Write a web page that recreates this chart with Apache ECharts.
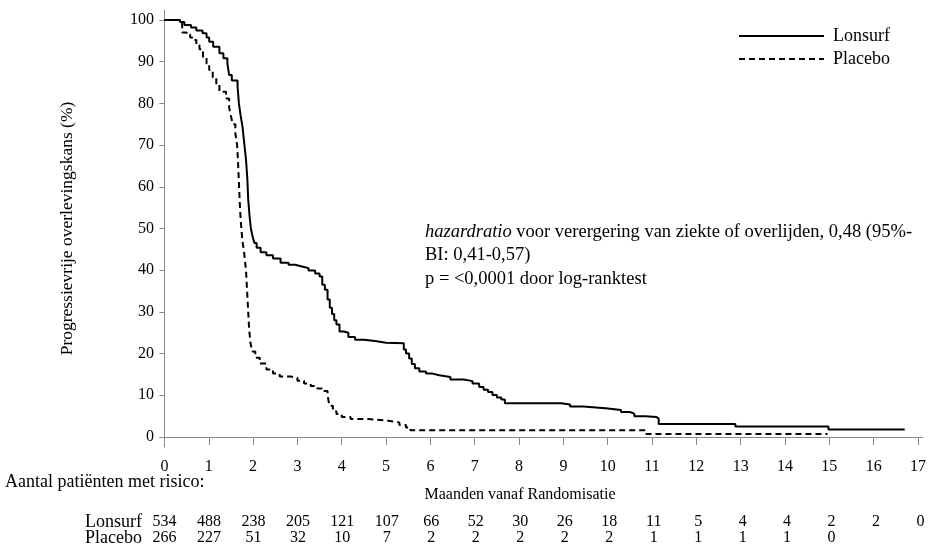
<!DOCTYPE html>
<html>
<head>
<meta charset="utf-8">
<script src="https://cdn.jsdelivr.net/npm/echarts@6/dist/echarts.min.js"></script>
<style>
  html, body { margin: 0; padding: 0; background: #fff; }
  #chart { width: 929px; height: 557px; }
</style>
</head>
<body>
<div id="chart"></div>
<script>
// Kaplan-Meier (months, % progression-free)
const lonsurfTimes = [0, 0.35, 0.45, 0.6, 0.72, 0.86, 0.95, 1.01, 1.1, 1.24, 1.33, 1.42, 1.46, 1.52, 1.65, 1.68, 1.72, 1.76, 1.8, 1.84,
  1.87, 1.89, 1.92, 1.95, 1.99, 2.03, 2.08, 2.17, 2.3, 2.45, 2.62, 2.8, 2.95, 3.1, 3.25, 3.4, 3.5, 3.56, 3.62, 3.68,
  3.73, 3.78, 3.83, 3.88, 3.95, 4.05, 4.15, 4.3, 4.5, 4.75, 5.0, 5.4, 5.45, 5.52, 5.58, 5.65, 5.75, 5.9, 6.05, 6.2,
  6.45, 6.75, 6.95, 7.1, 7.2, 7.3, 7.4, 7.5, 7.6, 7.68, 8.95, 9.15, 9.45, 9.95, 10.3, 10.5, 10.6, 10.85, 11.1, 11.15,
  12.88, 14.98, 16.7];
const lonsurfSurv = [100, 99.5, 98.8, 98.2, 97.5, 96.8, 95.8, 94.8, 93.6, 92, 90.8, 89.6, 86.8, 85.5, 84, 80, 77, 74.5, 70.5, 66.5,
  62, 57, 53, 50, 48, 46.5, 45.4, 44.3, 43.6, 42.8, 41.8, 41.3, 40.9, 40.5, 39.9, 39.2, 38.5, 36.5, 35.3, 33,
  31, 29.5, 28, 27, 25.3, 25, 24, 23.3, 23, 22.6, 22.5, 21, 20, 18.8, 17.5, 16.5, 15.7, 15.2, 14.8, 14.4,
  13.8, 13.4, 12.8, 12.0, 11.3, 10.8, 10.1, 9.5, 9.0, 8.1, 7.8, 7.3, 6.9, 6.5, 6.0, 5.6, 5.0, 4.8, 4.4, 3.1,
  2.5, 1.8, 1.8];

const placeboTimes = [0, 0.4, 0.5, 0.58, 0.65, 0.72, 0.79, 0.87, 0.95, 1.01, 1.09, 1.17, 1.24, 1.39, 1.46, 1.5, 1.54, 1.6, 1.64, 1.66,
  1.68, 1.7, 1.72, 1.76, 1.8, 1.84, 1.88, 1.91, 1.94, 1.98, 2.05, 2.15, 2.3, 2.45, 2.6, 2.85, 3.0, 3.15, 3.3, 3.45,
  3.55, 3.68, 3.72, 3.8, 3.88, 4.0, 4.2, 4.6, 5.05, 5.3, 5.45, 5.55, 10.87, 14.96];
const placeboSurv = [100, 97, 96.5, 95.8, 95.2, 94, 93, 91, 89.5, 88, 86.2, 84.5, 82.8, 81.2, 79, 77, 75, 72.8, 70, 66,
  61, 56, 52, 47, 44, 40, 32, 26, 22.6, 20.5, 19, 17.6, 16.2, 15.2, 14.5, 14.2, 13.5, 12.8, 12.2, 11.6,
  11, 10.1, 7.5, 6.2, 5.5, 4.8, 4.3, 3.9, 3.5, 2.9, 2.3, 1.6, 0.7, 0.7];

const months = [0, 1, 2, 3, 4, 5, 6, 7, 8, 9, 10, 11, 12, 13, 14, 15, 16, 17];
const yTicks = [0, 10, 20, 30, 40, 50, 60, 70, 80, 90, 100];
const lonsurfAtRisk = [534, 488, 238, 205, 121, 107, 66, 52, 30, 26, 18, 11, 5, 4, 4, 2, 2, 0];
const placeboAtRisk = [266, 227, 51, 32, 10, 7, 2, 2, 2, 2, 2, 1, 1, 1, 1, 0];

const font = 'Liberation Serif';
const pairs = (t, s) => t.map((x, i) => [x, s[i]]);

const riskAxis = (gridIndex, name, counts) => ({
  type: 'value', gridIndex, min: -0.1, max: 17.1,
  name, nameLocation: 'start', nameGap: 18,
  nameTextStyle: { fontFamily: font, fontSize: 18, color: '#000', verticalAlign: 'middle' },
  axisLine: { show: false }, axisTick: { show: false }, splitLine: { show: false },
  axisLabel: {
    customValues: months, margin: 0, verticalAlign: 'middle',
    fontFamily: font, fontSize: 16, color: '#000',
    formatter: v => (counts[Math.round(v)] !== undefined ? String(counts[Math.round(v)]) : '')
  }
});
const hiddenY = i => ({ type: 'value', gridIndex: i, show: false });

const chart = echarts.init(document.getElementById('chart'));
chart.setOption({
  animation: false,
  backgroundColor: '#fff',
  textStyle: { fontFamily: font },
  grid: [
    { left: 160, right: 4, top: 10, bottom: 110 },
    { left: 160, right: 4, top: 521, height: 1 },
    { left: 160, right: 4, top: 537, height: 1 }
  ],
  legend: {
    data: ['Lonsurf', 'Placebo'],
    orient: 'vertical', left: 738, top: 27, padding: 0,
    itemWidth: 85, itemHeight: 14, itemGap: 5,
    itemStyle: { opacity: 0 },
    textStyle: { fontFamily: font, fontSize: 18, color: '#000', padding: [0, 0, 0, 4] }
  },
  xAxis: [
    {
      type: 'value', min: -0.1, max: 17.1,
      axisLine: { show: true, lineStyle: { color: '#8a8a8a', width: 1 } },
      axisTick: { show: true, customValues: months, length: 8, lineStyle: { color: '#8a8a8a' } },
      axisLabel: { customValues: months, margin: 12, fontFamily: font, fontSize: 16, color: '#000' },
      splitLine: { show: false }
    },
    riskAxis(1, 'Lonsurf', lonsurfAtRisk),
    riskAxis(2, 'Placebo', placeboAtRisk)
  ],
  yAxis: [
    {
      type: 'value', min: -2.4, max: 102.4,
      name: 'Progressievrije overlevingskans (%)', nameLocation: 'middle', nameGap: 84,
      nameTextStyle: { fontFamily: font, fontSize: 17.5, color: '#000' },
      axisLine: { show: true, lineStyle: { color: '#8a8a8a', width: 1 } },
      axisTick: { show: true, customValues: yTicks, length: 5, lineStyle: { color: '#8a8a8a' } },
      axisLabel: { customValues: yTicks, margin: 6, fontFamily: font, fontSize: 16, color: '#000' },
      splitLine: { show: false }
    },
    hiddenY(1),
    hiddenY(2)
  ],
  graphic: [
    {
      type: 'text', left: 5, top: 473,
      style: { text: 'Aantal patiënten met risico:', fontFamily: font, fontSize: 18, fill: '#000' }
    },
    {
      type: 'text', x: 520, y: 495,
      style: { text: 'Maanden vanaf Randomisatie', fontFamily: font, fontSize: 16, fill: '#000', align: 'center', verticalAlign: 'middle' }
    },
    {
      type: 'text', x: 425, y: 220,
      style: {
        text: '{i|hazardratio} voor verergering van ziekte of overlijden, 0,48 (95%-\nBI: 0,41-0,57)\np = <0,0001 door log-ranktest',
        fontFamily: font, fontSize: 18.5, fill: '#000', lineHeight: 23.5, verticalAlign: 'top',
        rich: { i: { fontStyle: 'italic', fontFamily: font, fontSize: 18.5, lineHeight: 23.5 } }
      }
    }
  ],
  series: [
    {
      name: 'Lonsurf', type: 'line', step: 'end', symbol: 'none',
      xAxisIndex: 0, yAxisIndex: 0,
      lineStyle: { color: '#000', width: 2 },
      itemStyle: { color: '#000' },
      data: pairs(lonsurfTimes, lonsurfSurv)
    },
    {
      name: 'Placebo', type: 'line', step: 'end', symbol: 'none',
      xAxisIndex: 0, yAxisIndex: 0,
      lineStyle: { color: '#000', width: 2, type: [6, 4] },
      itemStyle: { color: '#000' },
      data: pairs(placeboTimes, placeboSurv)
    }
  ]
});
</script>
</body>
</html>
